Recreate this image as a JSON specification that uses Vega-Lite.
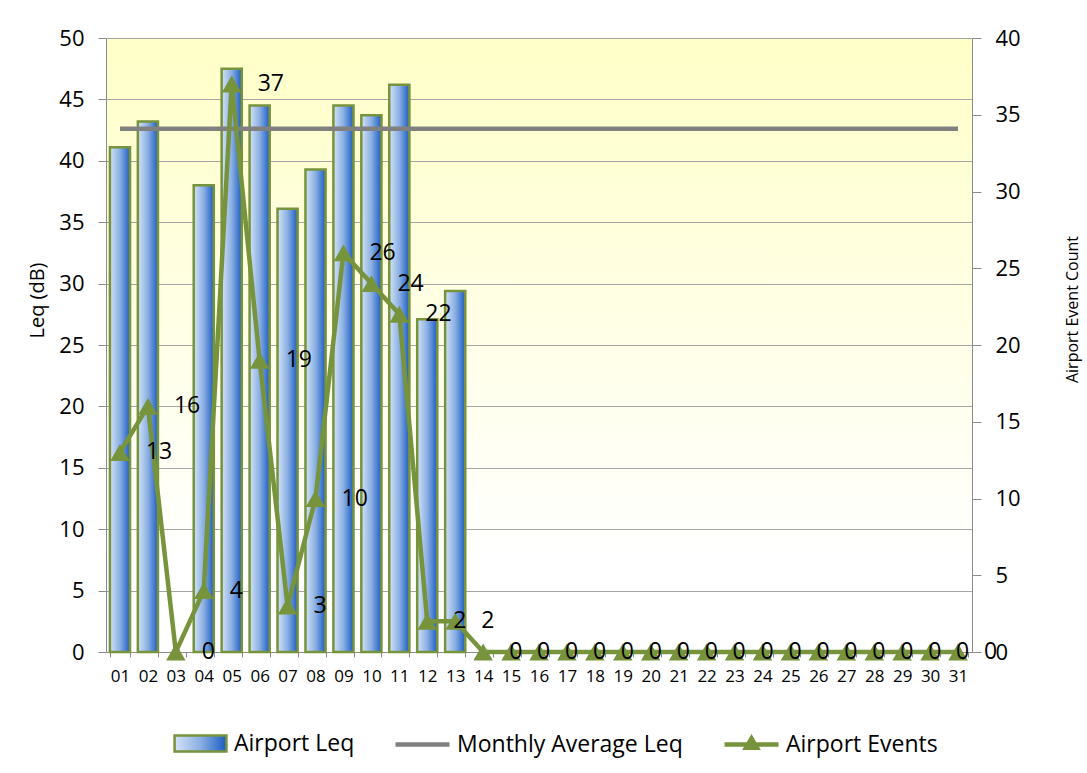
{
  "$schema": "https://vega.github.io/schema/vega-lite/v6.json",
  "width": 866,
  "height": 614,
  "autosize": {"type": "none"},
  "padding": {"left": 106, "top": 38, "right": 115, "bottom": 121},
  "background": "white",
  "config": {
    "font": "Open Sans",
    "view": {
      "stroke": null,
      "fill": {"gradient": "linear", "x1": 0, "y1": 0, "x2": 0, "y2": 1,
        "stops": [{"offset": 0, "color": "#FFFFC8"}, {"offset": 0.85, "color": "#FFFFFF"}, {"offset": 1, "color": "#FFFFFF"}]}
    },
    "axis": {
      "labelFont": "Open Sans", "titleFont": "Open Sans", "labelColor": "#000000", "titleColor": "#000000",
      "titleFontWeight": "normal", "domainColor": "#8C8C8C", "tickColor": "#8C8C8C", "gridColor": "#A6A6A6", "gridOpacity": 1
    },
    "legend": {
      "labelFont": "Open Sans", "labelColor": "#000000", "labelLimit": 400, "labelFontSize": 23, "labelOffset": 5,
      "orient": "none", "direction": "horizontal", "padding": 0, "symbolSize": 2916, "title": null
    }
  },
  "data": {
    "values": [
      {"day": "01", "leq": 41.1, "events": 13, "avg": 42.6},
      {"day": "02", "leq": 43.2, "events": 16, "avg": 42.6},
      {"day": "03", "leq": null, "events": 0, "avg": 42.6},
      {"day": "04", "leq": 38.0, "events": 4, "avg": 42.6},
      {"day": "05", "leq": 47.5, "events": 37, "avg": 42.6},
      {"day": "06", "leq": 44.5, "events": 19, "avg": 42.6},
      {"day": "07", "leq": 36.1, "events": 3, "avg": 42.6},
      {"day": "08", "leq": 39.3, "events": 10, "avg": 42.6},
      {"day": "09", "leq": 44.5, "events": 26, "avg": 42.6},
      {"day": "10", "leq": 43.7, "events": 24, "avg": 42.6},
      {"day": "11", "leq": 46.2, "events": 22, "avg": 42.6},
      {"day": "12", "leq": 27.1, "events": 2, "avg": 42.6},
      {"day": "13", "leq": 29.4, "events": 2, "avg": 42.6},
      {"day": "14", "leq": null, "events": 0, "avg": 42.6},
      {"day": "15", "leq": null, "events": 0, "avg": 42.6},
      {"day": "16", "leq": null, "events": 0, "avg": 42.6},
      {"day": "17", "leq": null, "events": 0, "avg": 42.6},
      {"day": "18", "leq": null, "events": 0, "avg": 42.6},
      {"day": "19", "leq": null, "events": 0, "avg": 42.6},
      {"day": "20", "leq": null, "events": 0, "avg": 42.6},
      {"day": "21", "leq": null, "events": 0, "avg": 42.6},
      {"day": "22", "leq": null, "events": 0, "avg": 42.6},
      {"day": "23", "leq": null, "events": 0, "avg": 42.6},
      {"day": "24", "leq": null, "events": 0, "avg": 42.6},
      {"day": "25", "leq": null, "events": 0, "avg": 42.6},
      {"day": "26", "leq": null, "events": 0, "avg": 42.6},
      {"day": "27", "leq": null, "events": 0, "avg": 42.6},
      {"day": "28", "leq": null, "events": 0, "avg": 42.6},
      {"day": "29", "leq": null, "events": 0, "avg": 42.6},
      {"day": "30", "leq": null, "events": 0, "avg": 42.6},
      {"day": "31", "leq": null, "events": 0, "avg": 42.6}
    ]
  },
  "encoding": {
    "x": {
      "field": "day", "type": "ordinal",
      "scale": {"paddingInner": 0.28, "paddingOuter": 0.14},
      "axis": {"title": null, "labelAngle": 0, "labelFontSize": 17, "tickBand": "extent", "tickSize": 5, "labelPadding": 11, "grid": false}
    }
  },
  "layer": [
    {
      "layer": [
        {
          "mark": {
            "type": "bar", "strokeWidth": 2.5,
            "fill": {"gradient": "linear", "x1": 0, "y1": 0, "x2": 1, "y2": 0,
              "stops": [{"offset": 0, "color": "#D4E3F6"}, {"offset": 0.5, "color": "#8AAFE3"}, {"offset": 1, "color": "#1B5CC2"}]}
          },
          "encoding": {
            "y": {
              "field": "leq", "type": "quantitative", "scale": {"domain": [0, 50]},
              "axis": {"title": "Leq (dB)", "values": [0, 5, 10, 15, 20, 25, 30, 35, 40, 45, 50], "grid": true,
                "tickSize": 8, "labelPadding": 14, "titlePadding": 11, "labelFontSize": 22, "titleFontSize": 20, "titleY": 262}
            },
            "stroke": {
              "datum": "Airport Leq", "type": "nominal",
              "scale": {"domain": ["Airport Leq"], "range": ["#77933C"]},
              "legend": {
                "legendX": 66, "legendY": 677,
                "symbolType": "M-0.96,-0.3H0.96V0.3H-0.96Z", "symbolStrokeWidth": 2.5
              }
            }
          }
        },
        {
          "mark": {"type": "line", "strokeWidth": 4.5, "color": "#808080"},
          "encoding": {
            "y": {"field": "avg", "type": "quantitative", "axis": {"title": "Leq (dB)"}},
            "strokeDash": {
              "datum": "Monthly Average Leq", "type": "nominal",
              "scale": {"domain": ["Monthly Average Leq"], "range": [[1, 0]]},
              "legend": {
                "legendX": 287, "legendY": 677,
                "symbolType": "M-1,0H1", "symbolStrokeWidth": 4.5, "symbolStrokeColor": "#808080"
              }
            }
          }
        }
      ]
    },
    {
      "layer": [
        {
          "mark": {"type": "line", "strokeWidth": 4.5, "color": "#77933C"},
          "encoding": {
            "y": {
              "field": "events", "type": "quantitative", "scale": {"domain": [0, 40]},
              "axis": {"orient": "right", "title": "Airport Event Count", "titleAngle": 270, "values": [0, 5, 10, 15, 20, 25, 30, 35, 40],
                "grid": false, "tickSize": 9, "labelPadding": 14, "titlePadding": 60, "labelFontSize": 22, "titleFontSize": 16, "titleY": 271}
            },
            "opacity": {
              "datum": "Airport Events", "type": "nominal",
              "scale": {"domain": ["Airport Events"], "range": [1]},
              "legend": {
                "legendX": 616, "legendY": 677,
                "symbolType": "M-1,0H1M-0.2,0.12L0,-0.22L0.2,0.12Z", "symbolStrokeWidth": 4.5,
                "symbolFillColor": "#77933C", "symbolStrokeColor": "#77933C"
              }
            }
          }
        },
        {
          "mark": {"type": "point", "shape": "triangle-up", "filled": true, "size": 380, "color": "#77933C", "opacity": 1},
          "encoding": {"y": {"field": "events", "type": "quantitative"}}
        },
        {
          "mark": {"type": "text", "align": "left", "baseline": "middle", "dx": 26, "fontSize": 23, "color": "#000000"},
          "encoding": {
            "y": {"field": "events", "type": "quantitative"},
            "text": {"field": "events", "type": "quantitative"}
          }
        }
      ]
    }
  ],
  "resolve": {"scale": {"y": "independent"}}
}
